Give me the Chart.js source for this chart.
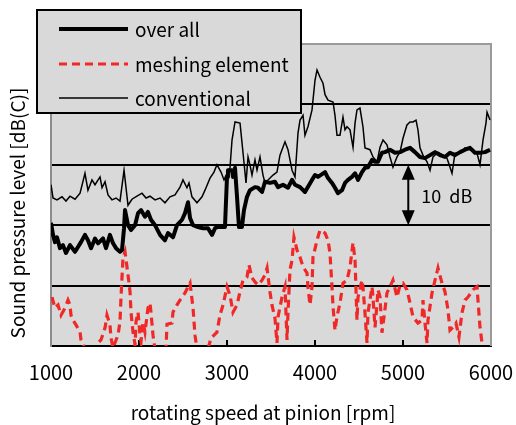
<!DOCTYPE html>
<html><head><meta charset="utf-8">
<script src="https://cdn.jsdelivr.net/npm/chart.js@4.4.0/dist/chart.umd.min.js"></script>
<style>html,body{margin:0;padding:0;background:#fff;}canvas{display:block;}</style>
</head><body>
<canvas id="c" width="516" height="425"></canvas>
<script>
// ---------- data ----------
const seriesLabels = ['over all', 'meshing element', 'conventional'];
const xTickValues = [1000, 2000, 3000, 4000, 5000, 6000];
const yGridLevels = [60, 70, 80, 90];
const xTitle = 'rotating speed at pinion [rpm]';
const yTitle = 'Sound pressure level [dB(C)]';

const overallRpm = [1000,1023,1045,1068,1102,1136,1170,1216,1273,1341,
  1386,1420,1455,1500,1534,1591,1625,1670,1705,1739,
  1784,1807,1830,1841,1875,1909,1955,1989,2023,2068,
  2102,2136,2182,2239,2295,2330,2386,2432,2489,2523,
  2557,2580,2614,2670,2727,2784,2830,2864,2898,2977,
  3000,3011,3057,3068,3091,3114,3136,3170,3193,3227,
  3261,3318,3352,3398,3432,3489,3545,3580,3636,3693,
  3739,3773,3830,3886,3966,4000,4034,4114,4148,4193,
  4227,4261,4307,4341,4375,4420,4455,4489,4534,4568,
  4602,4648,4682,4716,4761,4795,4852,4909,4966,5023,
  5080,5136,5193,5250,5307,5364,5420,5477,5534,5591,
  5648,5705,5761,5818,5875,5932,5989];
const overallDb = [70.4,68.4,67.2,68.0,66.2,66.7,65.4,66.7,65.6,67.2,
  68.4,67.5,66.2,67.8,67.0,67.8,66.2,68.4,67.0,66.2,
  65.6,65.9,69.5,72.5,70.0,69.2,70.0,72.0,72.5,71.4,
  72.2,70.9,70.0,68.4,67.5,68.7,68.0,70.0,70.9,72.0,
  73.8,71.2,70.0,69.7,69.5,69.5,68.4,69.5,69.7,69.7,
  78.0,79.1,79.1,78.0,79.5,74.7,69.7,69.7,72.5,74.7,
  75.8,76.3,76.2,75.5,77.2,77.0,77.2,76.3,76.7,76.2,
  77.5,76.7,76.3,75.5,77.5,78.3,78.0,78.8,77.8,77.0,
  76.2,75.3,75.8,77.0,77.5,78.0,78.6,77.5,78.8,79.5,
  79.6,80.8,80.5,80.5,82.0,82.1,82.5,82.0,82.1,82.5,
  82.8,82.1,81.3,81.1,81.6,82.1,81.6,81.3,82.0,81.6,
  82.1,82.5,82.8,82.0,82.0,82.1,82.5];

const meshRpm = [1011,1045,1080,1114,1159,1193,1216,1227,1250,1284,
  1330,1341,1386,1500,1534,1568,1614,1636,1670,1682,1705,
  1761,1784,1795,1818,1841,1875,1898,1909,1932,1955,
  1966,1989,2011,2023,2045,2068,2102,2125,2136,2159,
  2182,2307,2318,2375,2386,2432,2466,2523,2580,2614,
  2636,2659,2784,2818,2886,2920,2955,3000,3034,3068,
  3114,3148,3182,3227,3250,3284,3318,3352,3398,3432,
  3455,3489,3511,3545,3568,3580,3625,3659,3682,3693,
  3716,3739,3761,3795,3830,3864,3909,3920,3943,3966,
  3977,4023,4057,4114,4148,4170,4193,4205,4227,4250,
  4284,4318,4364,4398,4432,4455,4477,4489,4534,4545,
  4568,4591,4602,4648,4659,4682,4705,4716,4739,4761,
  4784,4818,4852,4886,4932,4966,5000,5045,5080,5114,
  5170,5216,5227,5250,5273,5284,5330,5364,5398,5443,
  5477,5511,5534,5568,5602,5636,5670,5705,5739,5795,
  5841,5852,5875,5898,5909,6000];
const meshDb = [58.1,56.3,56.8,55.1,56.3,57.6,56.8,55.1,54.3,53.5,
  52.3,51.0,49.5,49.0,50.5,51.0,53.0,55.1,53.5,51.3,49.7,
  51.8,54.0,57.9,64.6,65.6,61.8,59.0,55.6,52.3,50.2,
  54.0,55.6,51.8,50.7,54.0,52.3,56.3,57.1,55.6,51.8,
  49.5,49.5,53.6,53.8,55.6,56.8,57.6,58.8,60.4,56.3,
  51.8,49.5,49.5,51.3,52.3,55.1,56.8,59.8,58.4,55.6,
  56.8,59.0,60.9,61.4,63.4,61.3,60.6,60.1,60.9,61.8,
  62.9,58.9,56.8,54.6,50.5,54.8,58.1,59.8,51.0,55.5,
  62.6,64.2,68.0,65.9,64.7,63.1,62.1,59.8,56.8,59.8,
  64.7,67.5,69.2,68.7,67.5,65.4,59.8,56.5,52.6,54.9,
  57.1,60.4,60.9,63.1,67.1,64.2,54.3,58.1,60.9,59.8,
  55.5,50.5,55.5,59.8,58.1,53.1,57.1,59.3,58.1,52.2,
  54.8,58.8,59.8,60.9,58.1,60.1,60.4,59.3,57.1,54.8,
  53.8,54.3,57.6,53.8,50.5,54.3,58.8,60.9,62.9,60.4,
  59.0,56.0,52.6,53.1,53.8,51.5,55.5,57.6,58.1,59.3,
  59.8,57.6,53.1,50.5,49.5,49.5];

const convRpm = [1000,1023,1068,1125,1170,1216,1273,1330,1386,1420,
  1466,1500,1557,1580,1614,1648,1693,1739,1784,1830,
  1875,1920,1977,2034,2080,2125,2182,2239,2295,2352,
  2409,2466,2500,2545,2568,2602,2659,2716,2750,2807,
  2852,2886,2932,2966,3000,3034,3057,3091,3148,3182,
  3216,3239,3261,3284,3318,3341,3375,3409,3432,3489,
  3523,3568,3602,3659,3693,3739,3773,3807,3830,3864,
  3886,3920,3966,4000,4023,4057,4091,4114,4148,4205,
  4227,4250,4284,4318,4341,4364,4398,4432,4455,4477,
  4511,4545,4568,4625,4659,4705,4739,4773,4818,4852,
  4886,4932,4966,5000,5045,5080,5114,5148,5170,5193,
  5227,5273,5307,5341,5398,5455,5500,5557,5591,5648,
  5705,5761,5841,5875,5909,5943,5955,5989];
const convDb = [76.7,74.5,74.2,74.7,74.0,74.8,74.3,75.3,78.6,75.8,
  77.5,76.7,78.0,76.2,77.2,75.0,74.2,74.5,74.0,79.1,
  73.3,74.3,74.8,75.3,74.5,74.8,74.2,74.5,73.7,74.7,
  75.0,76.3,77.5,76.2,77.0,74.7,73.7,74.7,75.8,77.8,
  78.8,80.0,78.8,77.5,78.6,79.5,84.1,87.1,86.9,82.0,
  77.0,81.3,80.0,78.3,80.8,79.1,81.3,78.3,77.0,77.8,
  78.3,78.8,81.6,83.8,82.5,79.1,78.0,85.3,87.4,88.2,
  84.9,86.3,89.1,94.0,95.7,94.5,93.5,91.6,90.7,90.4,
  88.2,84.9,84.9,87.9,85.8,86.3,85.8,82.9,86.9,89.1,
  89.4,86.3,82.8,82.5,81.3,80.5,82.9,84.1,83.3,81.3,
  79.6,81.3,82.1,84.4,86.6,87.1,87.1,87.4,85.8,82.8,
  81.6,80.5,79.1,81.3,82.1,81.6,81.1,78.6,81.9,81.9,
  82.8,82.5,81.9,80.0,84.1,86.9,88.7,87.4];

// annotation: 10 dB span
const arrowRpm = 5060;
const arrowFromDb = 80;
const arrowToDb = 70;
const arrowLabel = '10  dB';

// ---------- styles ----------
const FONT = '"Noto Sans CJK JP", "DejaVu Sans", sans-serif';
const PLOT_BG = '#d9d9d9';
const RED = '#f02828';

function pts(xs, ys) {
  const n = Math.min(xs.length, ys.length);
  const out = [];
  for (let i = 0; i < n; i++) out.push({x: xs[i], y: ys[i]});
  return out;
}

const decor = {
  id: 'decor',
  beforeDraw(chart) {
    const {ctx, chartArea: a} = chart;
    ctx.save();
    ctx.fillStyle = PLOT_BG;
    ctx.fillRect(a.left, a.top, a.right - a.left, a.bottom - a.top);
    ctx.restore();
  },
  beforeDatasetsDraw(chart) {
    const {ctx, chartArea: a, scales} = chart;
    ctx.save();
    ctx.strokeStyle = '#9a9a9a';
    ctx.lineWidth = 2;
    ctx.beginPath();
    ctx.moveTo(a.left, a.top); ctx.lineTo(a.right, a.top); ctx.lineTo(a.right, a.bottom);
    ctx.stroke();
    ctx.strokeStyle = '#000';
    ctx.beginPath();
    xTickValues.slice(1, -1).forEach(v => {
      const x = scales.x.getPixelForValue(v);
      ctx.moveTo(x, a.bottom); ctx.lineTo(x, a.bottom - 6);
    });
    ctx.stroke();
    ctx.restore();
  },
  afterDatasetsDraw(chart) {
    const {ctx, scales} = chart;
    const x = scales.x.getPixelForValue(arrowRpm);
    const y1 = scales.y.getPixelForValue(arrowFromDb);
    const y2 = scales.y.getPixelForValue(arrowToDb);
    ctx.save();
    ctx.strokeStyle = '#000'; ctx.fillStyle = '#000'; ctx.lineWidth = 2;
    ctx.beginPath(); ctx.moveTo(x, y1 + 10); ctx.lineTo(x, y2 - 10); ctx.stroke();
    ctx.beginPath(); ctx.moveTo(x, y1); ctx.lineTo(x - 6.5, y1 + 15); ctx.lineTo(x + 6.5, y1 + 15); ctx.closePath(); ctx.fill();
    ctx.beginPath(); ctx.moveTo(x, y2); ctx.lineTo(x - 6.5, y2 - 15); ctx.lineTo(x + 6.5, y2 - 15); ctx.closePath(); ctx.fill();
    ctx.font = '18px ' + FONT;
    ctx.textAlign = 'left'; ctx.textBaseline = 'middle';
    ctx.fillText(arrowLabel, x + 13, (y1 + y2) / 2 + 1);
    ctx.restore();
  },
  afterDraw(chart) {
    const {ctx} = chart;
    ctx.save();
    ctx.fillStyle = '#000';
    ctx.font = '19px ' + FONT;
    ctx.textAlign = 'center'; ctx.textBaseline = 'middle';
    ctx.fillText(xTitle, 263, 413);
    ctx.translate(18, 213);
    ctx.rotate(-Math.PI / 2);
    ctx.fillText(yTitle, 0, 0);
    ctx.restore();

    // legend box
    ctx.save();
    const L = 37, T = 10, R = 301, B = 113;
    ctx.fillStyle = PLOT_BG;
    ctx.fillRect(L, T, R - L, B - T);
    ctx.strokeStyle = '#000'; ctx.lineWidth = 2;
    ctx.strokeRect(L, T, R - L, B - T);
    const ds = chart.data.datasets;
    const ys = [29, 64, 98];
    ds.forEach((d, i) => {
      ctx.beginPath();
      ctx.strokeStyle = d.borderColor;
      ctx.lineWidth = d.borderWidth;
      ctx.setLineDash(d.borderDash || []);
      ctx.moveTo(59, ys[i]); ctx.lineTo(128, ys[i]);
      ctx.stroke();
      ctx.setLineDash([]);
      ctx.fillStyle = '#000';
      ctx.font = '19px ' + FONT;
      ctx.textAlign = 'left'; ctx.textBaseline = 'middle';
      ctx.fillText(d.label, 135, ys[i] + 1);
    });
    ctx.restore();
  }
};

new Chart(document.getElementById('c'), {
  type: 'line',
  data: {
    datasets: [
      {label: seriesLabels[0], data: pts(overallRpm, overallDb), borderColor: '#000', borderWidth: 4,
       pointRadius: 0, tension: 0, fill: false, borderJoinStyle: 'round'},
      {label: seriesLabels[1], data: pts(meshRpm, meshDb), borderColor: RED, borderWidth: 3.2,
       borderDash: [8, 5], pointRadius: 0, tension: 0, fill: false},
      {label: seriesLabels[2], data: pts(convRpm, convDb), borderColor: '#000', borderWidth: 1.5,
       pointRadius: 0, tension: 0, fill: false}
    ]
  },
  options: {
    responsive: false,
    animation: false,
    events: [],
    layout: {padding: {left: 0, top: 44, right: 25, bottom: 0}},
    plugins: {legend: {display: false}, tooltip: {enabled: false}},
    scales: {
      x: {
        type: 'linear', min: 1000, max: 6000,
        afterBuildTicks(s) { s.ticks = xTickValues.map(v => ({value: v})); },
        ticks: {color: '#000', font: {family: FONT, size: 20}, padding: 14,
                maxRotation: 0, autoSkip: false, callback: v => String(v)},
        grid: {display: false, drawTicks: false},
        border: {display: true, color: '#000', width: 2},
        afterFit(s) { s.height = 79; s.paddingLeft = 0; s.paddingRight = 0; }
      },
      y: {
        min: 50, max: 100,
        ticks: {display: false, stepSize: 10},
        grid: {drawTicks: false, lineWidth: 2,
               color: c => yGridLevels.includes(c.tick.value) ? '#000' : 'rgba(0,0,0,0)'},
        border: {display: true, color: '#8c8c8c', width: 2},
        afterFit(s) { s.width = 51; s.paddingTop = 0; s.paddingBottom = 0; }
      }
    }
  },
  plugins: [decor]
});
</script>
</body></html>
